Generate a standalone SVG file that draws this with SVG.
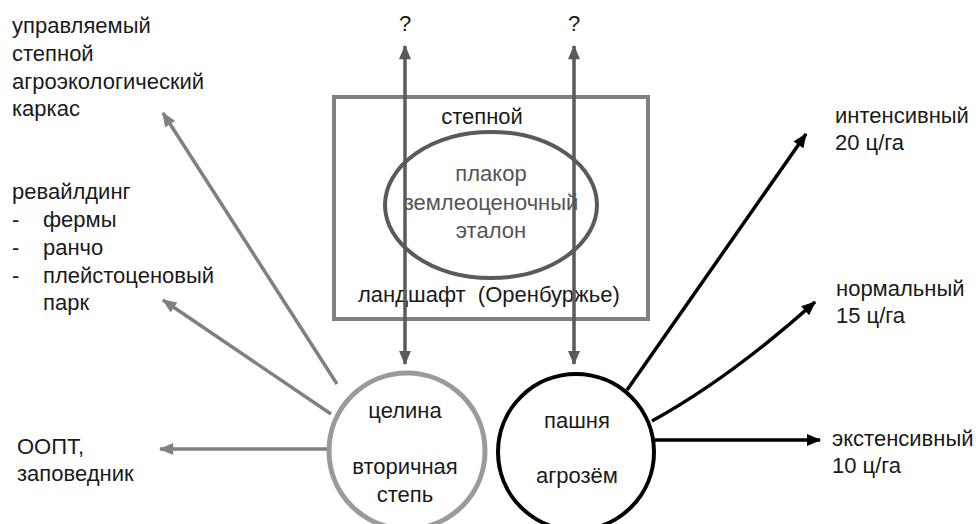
<svg xmlns="http://www.w3.org/2000/svg" width="976" height="524" viewBox="0 0 976 524">
  <style>
    text { font-family: "Liberation Sans", Arial, sans-serif; font-size: 22px; fill: #1a1a1a; }
    .mid { text-anchor: middle; }
    .inner { fill: #555555; }
    .gray { stroke: #808080; stroke-width: 3.5; fill: none; }
    .dark { stroke: #5a5a5a; stroke-width: 3.5; fill: none; }
    .black { stroke: #000000; stroke-width: 3.5; fill: none; }
  </style>
  <defs>
    <marker id="ahGray" viewBox="0 0 12 10" refX="11" refY="5" markerWidth="15" markerHeight="12" markerUnits="userSpaceOnUse" orient="auto">
      <path d="M0,0 L12,5 L0,10 z" fill="#808080"/>
    </marker>
    <marker id="ahDark" viewBox="0 0 12 10" refX="11" refY="5" markerWidth="15" markerHeight="12" markerUnits="userSpaceOnUse" orient="auto-start-reverse">
      <path d="M0,0 L12,5 L0,10 z" fill="#5a5a5a"/>
    </marker>
    <marker id="ahBlack" viewBox="0 0 12 10" refX="11" refY="5" markerWidth="15" markerHeight="12" markerUnits="userSpaceOnUse" orient="auto">
      <path d="M0,0 L12,5 L0,10 z" fill="#000000"/>
    </marker>
  </defs>

  <!-- landscape frame -->
  <g id="landscape">
    <rect x="334" y="97" width="314" height="222" fill="none" stroke="#808080" stroke-width="4"/>
    <text class="mid" x="482" y="124">степной</text>
    <text x="358" y="302" xml:space="preserve">ландшафт  (Оренбуржье)</text>
  </g>

  <!-- connectors -->
  <g id="connectors">
    <!-- vertical two-way links -->
    <line class="dark" x1="405" y1="46" x2="405" y2="364" marker-start="url(#ahDark)" marker-end="url(#ahDark)"/>
    <line class="dark" x1="574" y1="46" x2="574" y2="364" marker-start="url(#ahDark)" marker-end="url(#ahDark)"/>
    <!-- from virgin land -->
    <line class="gray" x1="337" y1="384" x2="163" y2="113" marker-end="url(#ahGray)"/>
    <line class="gray" x1="331" y1="414" x2="163" y2="300" marker-end="url(#ahGray)"/>
    <line class="gray" x1="329" y1="449" x2="160" y2="449" marker-end="url(#ahGray)"/>
    <!-- from arable land -->
    <line class="black" x1="627" y1="390" x2="806" y2="134" marker-end="url(#ahBlack)"/>
    <path class="black" d="M652,421 Q730,378 815,302" marker-end="url(#ahBlack)"/>
    <line class="black" x1="655" y1="440" x2="820" y2="440" marker-end="url(#ahBlack)"/>
  </g>

  <g id="question-left">
    <text class="mid" x="405" y="31">?</text>
  </g>
  <g id="question-right">
    <text class="mid" x="574" y="31">?</text>
  </g>

  <g id="plakor">
    <ellipse cx="491" cy="205" rx="106" ry="73" fill="none" stroke="#5a5a5a" stroke-width="4"/>
    <text class="mid inner" x="491" y="181">плакор</text>
    <text class="mid inner" x="491" y="210">землеоценочный</text>
    <text class="mid inner" x="491" y="238">эталон</text>
  </g>

  <g id="celina">
    <circle cx="407" cy="451" r="78" fill="#ffffff" stroke="#9a9a9a" stroke-width="5"/>
    <text class="mid" x="405" y="418">целина</text>
    <text class="mid" x="405" y="474">вторичная</text>
    <text class="mid" x="405" y="502">степь</text>
  </g>

  <g id="pashnya">
    <circle cx="576" cy="452" r="78" fill="#ffffff" stroke="#000000" stroke-width="4"/>
    <text class="mid" x="577" y="428">пашня</text>
    <text class="mid" x="577" y="483">агрозём</text>
  </g>

  <g id="karkas">
    <text x="12" y="33">управляемый</text>
    <text x="12" y="61">степной</text>
    <text x="12" y="89">агроэкологический</text>
    <text x="12" y="116">каркас</text>
  </g>

  <g id="rewilding">
    <text x="12" y="199">ревайлдинг</text>
    <text x="12" y="227">-</text>
    <text x="43" y="227">фермы</text>
    <text x="12" y="255">-</text>
    <text x="43" y="255">ранчо</text>
    <text x="12" y="283">-</text>
    <text x="43" y="283">плейстоценовый</text>
    <text x="43" y="310">парк</text>
  </g>

  <g id="oopt">
    <text x="17" y="454">ООПТ,</text>
    <text x="17" y="481">заповедник</text>
  </g>

  <g id="intensive">
    <text x="835" y="123">интенсивный</text>
    <text x="835" y="150">20 ц/га</text>
  </g>

  <g id="normal">
    <text x="836" y="296">нормальный</text>
    <text x="836" y="323">15 ц/га</text>
  </g>

  <g id="extensive">
    <text x="832" y="446">экстенсивный</text>
    <text x="832" y="473">10 ц/га</text>
  </g>
</svg>
